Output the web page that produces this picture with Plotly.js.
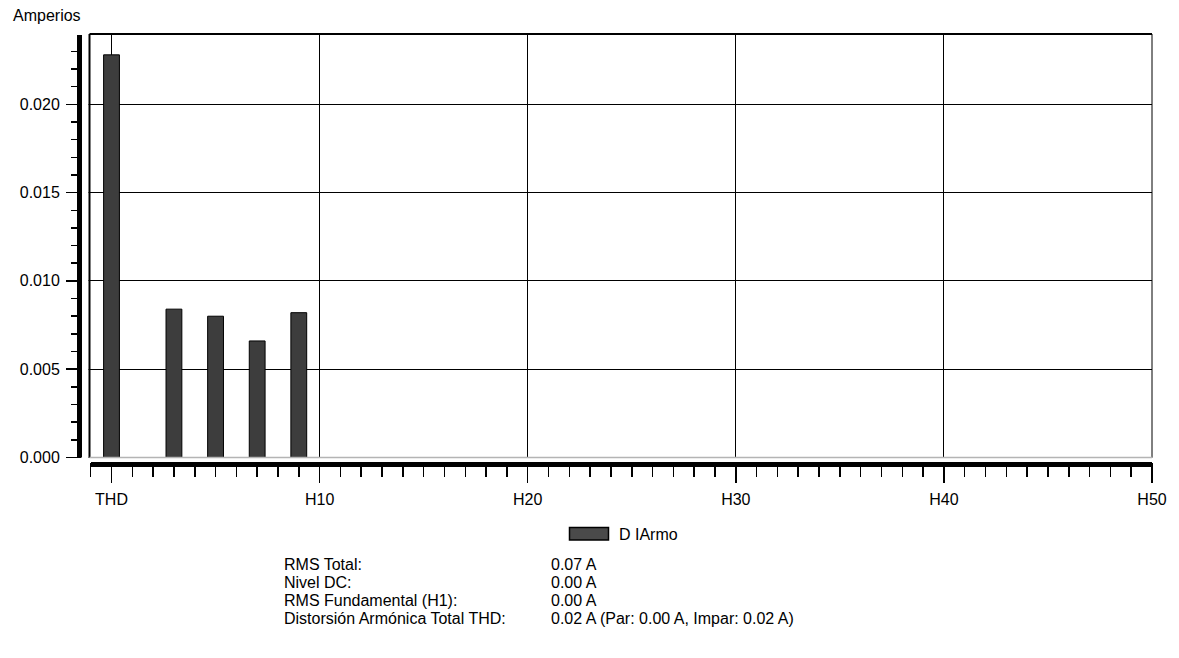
<!DOCTYPE html>
<html>
<head>
<meta charset="utf-8">
<script src="https://cdn.plot.ly/plotly-3.0.1.min.js"></script>
<style>html,body{margin:0;padding:0;background:#fff;}#chart{width:1179px;height:658px;}</style>
</head>
<body>
<div id="chart"></div>
<script>
// ---- data ----
const harmonicLabels = ['THD','H1','H2','H3','H4','H5','H6','H7','H8','H9','H10',
  'H11','H12','H13','H14','H15','H16','H17','H18','H19','H20',
  'H21','H22','H23','H24','H25','H26','H27','H28','H29','H30',
  'H31','H32','H33','H34','H35','H36','H37','H38','H39','H40',
  'H41','H42','H43','H44','H45','H46','H47','H48','H49','H50'];
const amperes = [0.0228, 0, 0, 0.0084, 0, 0.0080, 0, 0.0066, 0, 0.0082, 0,
  0, 0, 0, 0, 0, 0, 0, 0, 0, 0,
  0, 0, 0, 0, 0, 0, 0, 0, 0, 0,
  0, 0, 0, 0, 0, 0, 0, 0, 0, 0,
  0, 0, 0, 0, 0, 0, 0, 0, 0, 0];
const xTickLabels = ['THD','H10','H20','H30','H40','H50'];
const seriesName = 'D IArmo';
const yTitle = 'Amperios';
const statLabels = ['RMS Total:', 'Nivel DC:', 'RMS Fundamental (H1):', 'Distorsión Armónica Total THD:'];
const statValues = ['0.07 A', '0.00 A', '0.00 A', '0.02 A (Par: 0.00 A, Impar: 0.02 A)'];

// ---- layout helpers (pixel -> paper) ----
const W = 1179, H = 658, ML = 82, MR = 27, MT = 34, MB = 196;
const PW = W - ML - MR, PH = H - MT - MB;
const px = v => (v - ML) / PW;
const py = v => (H - MB - v) / PH;
const FONT = 'Liberation Sans, Arial, Helvetica, sans-serif';
const yRange = [-0.000255, 0.02398];

const xIdx = harmonicLabels.map((_, i) => i);
const tickIdx = xTickLabels.map(l => harmonicLabels.indexOf(l));

const trace = {
  type: 'bar', x: xIdx, y: amperes, name: seriesName, width: 0.76,
  marker: {color: '#3d3d3d', line: {color: '#000', width: 1}},
  hoverinfo: 'x+y'
};

const shapes = [
  // hide gridlines outside the frame
  {type:'rect', xref:'paper', yref:'paper', x0:0, x1:px(88.5), y0:0, y1:1, fillcolor:'#fff', line:{width:0}, layer:'above'},
  {type:'rect', xref:'paper', yref:'y', x0:0, x1:1, y0:yRange[0], y1:0, fillcolor:'#fff', line:{width:0}, layer:'above'},
  // frame
  {type:'line', xref:'paper', yref:'paper', x0:px(89.5), x1:px(89.5), y0:py(457.7), y1:1, line:{color:'#000', width:2}, layer:'above'},
  {type:'line', xref:'paper', yref:'paper', x0:px(89.5), x1:1, y0:1, y1:1, line:{color:'#000', width:2}, layer:'above'},
  {type:'line', xref:'paper', yref:'paper', x0:1, x1:1, y0:py(457.7), y1:1, line:{color:'#000', width:1}, layer:'above'},
  {type:'line', xref:'paper', yref:'y', x0:px(89.5), x1:1, y0:0, y1:0, line:{color:'#b4b4b4', width:1.5}, layer:'above'},
  // thick axis lines
  {type:'line', xref:'paper', yref:'paper', x0:px(79.5), x1:px(79.5), y0:py(457.5), y1:py(35), line:{color:'#000', width:5}, layer:'above'},
  {type:'line', xref:'paper', yref:'paper', x0:px(91), x1:1, y0:py(464.5), y1:py(464.5), line:{color:'#000', width:5}, layer:'above'},
  // legend swatch
  {type:'rect', xref:'paper', yref:'paper', x0:px(569.5), x1:px(608.5), y0:py(540), y1:py(527.5), fillcolor:'#4a4a4a', line:{color:'#000', width:1.5}}
];

const annotations = [
  {xref:'paper', yref:'paper', x:px(11), y:py(15), xanchor:'left', yanchor:'middle', text:yTitle, showarrow:false, font:{family:FONT, size:16, color:'#000'}},
  {xref:'paper', yref:'paper', x:px(617), y:py(534), xanchor:'left', yanchor:'middle', text:seriesName, showarrow:false, font:{family:FONT, size:16, color:'#000'}}
];
const rowY = [564, 582, 600, 618];
statLabels.forEach((t, i) => {
  annotations.push({xref:'paper', yref:'paper', x:px(282), y:py(rowY[i]), xanchor:'left', yanchor:'middle', text:t, showarrow:false, font:{family:FONT, size:16, color:'#000'}});
  annotations.push({xref:'paper', yref:'paper', x:px(549), y:py(rowY[i]), xanchor:'left', yanchor:'middle', text:statValues[i], showarrow:false, font:{family:FONT, size:16, color:'#000'}});
});

const layout = {
  width: W, height: H,
  margin: {l: ML, r: MR, t: MT, b: MB, pad: 0},
  paper_bgcolor: '#fff', plot_bgcolor: '#fff',
  showlegend: false,
  font: {family: FONT, size: 16, color: '#000'},
  xaxis: {
    type: 'linear', range: [-1.418, 50], tickmode: 'array', tickvals: tickIdx, ticktext: xTickLabels,
    ticks: 'outside', ticklen: 20, tickwidth: 1.5, tickcolor: '#000', ticklabelstandoff: 3,
    showgrid: true, gridcolor: '#000', gridwidth: 1, zeroline: false, showline: false,
    minor: {tickmode: 'linear', tick0: 0, dtick: 1, ticks: 'outside', ticklen: 14, tickwidth: 1.5, tickcolor: '#000', showgrid: false},
    tickfont: {family: FONT, size: 16, color: '#000'}, fixedrange: true
  },
  yaxis: {
    range: yRange, tickmode: 'linear', tick0: 0, dtick: 0.005, tickformat: '.3f',
    ticks: 'outside', ticklen: 15, tickwidth: 1.5, tickcolor: '#000', ticklabelstandoff: 3,
    showgrid: true, gridcolor: '#000', gridwidth: 1, zeroline: false, showline: false,
    minor: {tickmode: 'linear', tick0: 0, dtick: 0.001, ticks: 'outside', ticklen: 10, tickwidth: 1.5, tickcolor: '#000', showgrid: false},
    tickfont: {family: FONT, size: 16, color: '#000'}, fixedrange: true
  },
  shapes: shapes,
  annotations: annotations
};

Plotly.newPlot('chart', [trace], layout, {displayModeBar: false, staticPlot: true});
</script>
</body>
</html>
